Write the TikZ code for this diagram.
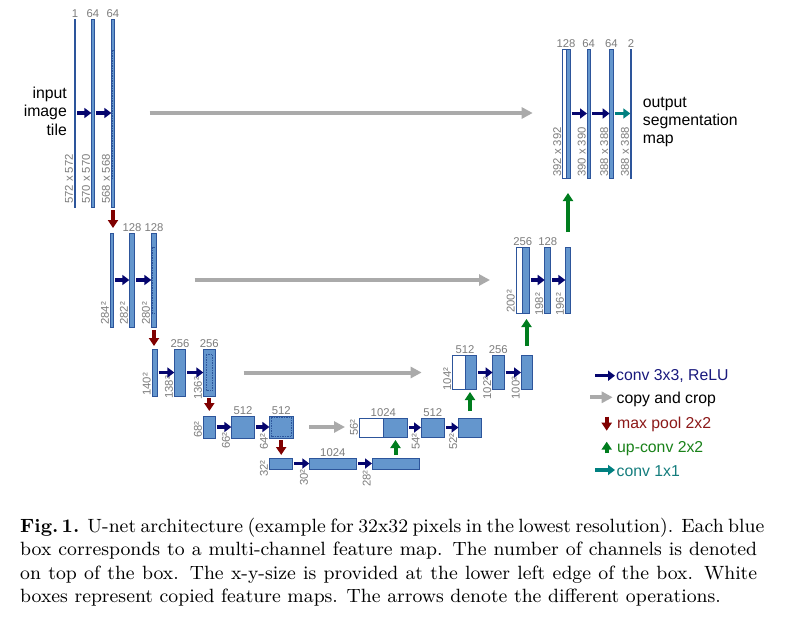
\documentclass[tikz,border=0pt]{standalone}
\usepackage{fontspec}
\usepackage{graphicx}
\usetikzlibrary{arrows.meta}
\newfontfamily\arialf{Liberation Sans}
\definecolor{boxfill}{RGB}{100,150,205}
\definecolor{boxdraw}{RGB}{45,85,155}
\definecolor{convc}{RGB}{5,5,110}
\definecolor{poolc}{RGB}{128,0,0}
\definecolor{upcol}{RGB}{0,125,30}
\definecolor{onec}{RGB}{0,128,128}
\definecolor{copyc}{RGB}{170,170,170}
\definecolor{labc}{RGB}{125,125,125}
\definecolor{convt}{RGB}{25,25,125}
\definecolor{poolt}{RGB}{140,25,25}
\definecolor{upt}{RGB}{25,130,25}
\definecolor{onet}{RGB}{20,125,125}
\begin{document}
\begin{tikzpicture}[x=1pt,y=-1pt,
  bx/.style={draw=boxdraw, fill=boxfill, line width=0.8pt, inner sep=0pt, outer sep=0pt},
  wbx/.style={bx, fill=white},
  cropbox/.style={draw=boxdraw, line width=0.6pt, dash pattern=on 1.5pt off 1pt},
  chl/.style={font=\arialf\fontsize{11.3}{12}\selectfont, text=labc, inner sep=0pt, anchor=base},
  szl/.style={font=\arialf\fontsize{11.3}{12}\selectfont, text=labc, inner sep=0pt, rotate=90, anchor=base west},
  bigt/.style={font=\arialf\fontsize{15.8}{18}\selectfont, inner sep=0pt},
  aconv/.style={draw=convc, line width=3.5pt, -{Triangle[length=7pt,width=10pt]}, shorten <=1.5pt},
  aone/.style={draw=onec, line width=3.5pt, -{Triangle[length=7pt,width=10pt]}, shorten <=1.5pt},
  acopy/.style={draw=copyc, line width=4pt, -{Triangle[length=11pt,width=11pt]}},
  apool/.style={draw=poolc, line width=4pt, -{Triangle[length=8pt,width=10pt]}},
  aup/.style={draw=upcol, line width=4pt, -{Triangle[length=8pt,width=10pt]}}
]
\fill[white] (0,0) rectangle (800,629);
\useasboundingbox (0,0) rectangle (800,629);

% ---------------- contracting path ----------------
\node[bx, minimum width=1.4pt, minimum height=188pt] (b11) at (75,113) {};
\node[bx, minimum width=3pt, minimum height=188pt] (b12) at (92.8,113) {};
\node[bx, minimum width=3.4pt, minimum height=188pt] (b13) at (113,113) {};
\draw[cropbox] (111.9,50) rectangle (114.1,178);

\node[bx, minimum width=3.4pt, minimum height=94pt] (b21) at (112,280) {};
\node[bx, minimum width=5.4pt, minimum height=94pt] (b22) at (132,280) {};
\node[bx, minimum width=5.4pt, minimum height=94pt] (b23) at (154,280) {};
\draw[cropbox] (152,247) rectangle (156,313);

\node[bx, minimum width=5pt, minimum height=47pt] (b31) at (154.5,372.5) {};
\node[bx, minimum width=11.4pt, minimum height=47pt] (b32) at (180,372.5) {};
\node[bx, minimum width=12pt, minimum height=47pt] (b33) at (209.3,372.5) {};
\draw[cropbox] (206,354) rectangle (212.6,390.5);

\node[bx, minimum width=12pt, minimum height=22pt] (b41) at (209.3,427) {};
\node[bx, minimum width=23.4pt, minimum height=22pt] (b42) at (243,427) {};
\node[bx, minimum width=23.6pt, minimum height=22pt] (b43) at (281.2,427) {};
\draw[cropbox] (270.8,417.6) rectangle (291.6,436.4);

\node[bx, minimum width=23pt, minimum height=11pt] (b51) at (280.8,463.5) {};
\node[bx, minimum width=47pt, minimum height=11pt] (b52) at (332.8,463.5) {};
\node[bx, minimum width=47pt, minimum height=11pt] (b53) at (395.5,463.5) {};

% ---------------- expansive path ----------------
\node[wbx, minimum width=24pt, minimum height=19pt] (w4) at (371.3,427.5) {};
\node[bx, minimum width=24pt, minimum height=19pt] (b4u) at (395.3,427.5) {};
\node[bx, minimum width=23.6pt, minimum height=19pt] (b44) at (432.8,427.5) {};
\node[bx, minimum width=23pt, minimum height=19pt] (b45) at (470,427.5) {};

\node[wbx, minimum width=12.3pt, minimum height=34pt] (w3) at (458.8,372.5) {};
\node[bx, minimum width=11.8pt, minimum height=34pt] (b3u) at (470.85,372.5) {};
\node[bx, minimum width=11.4pt, minimum height=34pt] (b34) at (498.3,372.5) {};
\node[bx, minimum width=11pt, minimum height=34pt] (b35) at (526.5,372.5) {};

\node[wbx, minimum width=6.7pt, minimum height=66pt] (w2) at (519.35,280) {};
\node[bx, minimum width=6.6pt, minimum height=66pt] (b2u) at (526,280) {};
\node[bx, minimum width=6pt, minimum height=66pt] (b24) at (547.7,280) {};
\node[bx, minimum width=5.4pt, minimum height=66pt] (b25) at (568,280) {};

\node[wbx, minimum width=3.3pt, minimum height=129pt] (w1) at (564.35,113.5) {};
\node[bx, minimum width=4pt, minimum height=129pt] (b1u) at (568,113.5) {};
\node[bx, minimum width=3.4pt, minimum height=129pt] (b14) at (588.7,113.5) {};
\node[bx, minimum width=3.4pt, minimum height=129pt] (b15) at (611.3,113.5) {};
\node[bx, minimum width=1.4pt, minimum height=129pt] (b16) at (631,113.5) {};

% ---------------- channel labels ----------------
\node[chl] at ([yshift=2pt]b11.north) {1};
\node[chl] at ([yshift=2pt]b12.north) {64};
\node[chl] at ([yshift=2pt]b13.north) {64};
\node[chl] at ([yshift=2pt]b22.north) {128};
\node[chl] at ([yshift=2pt]b23.north) {128};
\node[chl] at ([yshift=2pt]b32.north) {256};
\node[chl] at ([yshift=2pt]b33.north) {256};
\node[chl] at ([yshift=2pt]b42.north) {512};
\node[chl] at ([yshift=2pt]b43.north) {512};
\node[chl] at ([yshift=2pt]b52.north) {1024};
\node[chl] at ([yshift=2pt]w4.north east) {1024};
\node[chl] at ([yshift=2pt]b44.north) {512};
\node[chl] at ([yshift=2pt]w3.north east) {512};
\node[chl] at ([yshift=2pt]b34.north) {256};
\node[chl] at ([yshift=2pt]w2.north east) {256};
\node[chl] at ([yshift=2pt]b24.north) {128};
\node[chl] at ([yshift=2pt]w1.north east) {128};
\node[chl] at ([yshift=2pt]b14.north) {64};
\node[chl] at ([yshift=2pt]b15.north) {64};
\node[chl] at ([yshift=2pt]b16.north) {2};

% ---------------- size labels ----------------
\node[szl] at ([xshift=-1.5pt,yshift=3pt]b11.south west) {572 x 572};
\node[szl] at ([xshift=-1.5pt,yshift=3pt]b12.south west) {570 x 570};
\node[szl] at ([xshift=-1.5pt,yshift=3pt]b13.south west) {568 x 568};
\node[szl] at ([xshift=-1.5pt,yshift=2pt]b21.south west) {284²};
\node[szl] at ([xshift=-1.5pt,yshift=2pt]b22.south west) {282²};
\node[szl] at ([xshift=-1.5pt,yshift=2pt]b23.south west) {280²};
\node[szl] at ([xshift=-1.5pt,yshift=0pt]b31.south west) {140²};
\node[szl] at ([xshift=-1.5pt,yshift=-3pt]b32.south west) {138²};
\node[szl] at ([xshift=-1.5pt,yshift=-4pt]b33.south west) {136²};
\node[szl] at ([xshift=-1.5pt,yshift=0pt]b41.south west) {68²};
\node[szl] at ([xshift=-1.5pt,yshift=-11pt]b42.south west) {66²};
\node[szl] at ([xshift=-1.5pt,yshift=-12pt]b43.south west) {64²};
\node[szl] at ([xshift=-1.5pt,yshift=-8pt]b51.south west) {32²};
\node[szl] at ([xshift=-1.5pt,yshift=-17pt]b52.south west) {30²};
\node[szl] at ([xshift=-1.5pt,yshift=-18pt]b53.south west) {28²};
\node[szl] at ([xshift=-1.5pt,yshift=1pt]w4.south west) {56²};
\node[szl] at ([xshift=-1.5pt,yshift=-13pt]b44.south west) {54²};
\node[szl] at ([xshift=-1.5pt,yshift=-13pt]b45.south west) {52²};
\node[szl] at ([xshift=-1.5pt,yshift=-1pt]w3.south west) {104²};
\node[szl] at ([xshift=-1.5pt,yshift=-10pt]b34.south west) {102²};
\node[szl] at ([xshift=-1.5pt,yshift=-10pt]b35.south west) {100²};
\node[szl] at ([xshift=-1.5pt,yshift=0pt]w2.south west) {200²};
\node[szl] at ([xshift=-1.5pt,yshift=-3pt]b24.south west) {198²};
\node[szl] at ([xshift=-1.5pt,yshift=-3pt]b25.south west) {196²};
\node[szl] at ([xshift=-1.5pt,yshift=1pt]w1.south west) {392 x 392};
\node[szl] at ([xshift=-1.5pt,yshift=1pt]b14.south west) {390 x 390};
\node[szl] at ([xshift=-1.5pt,yshift=1pt]b15.south west) {388 x 388};
\node[szl] at ([xshift=-1.5pt,yshift=1pt]b16.south west) {388 x 388};

% ---------------- conv 3x3 arrows ----------------
\draw[aconv] (b11.east) -- (b12.west);
\draw[aconv] (b12.east) -- (b13.west);
\draw[aconv] (b21.east) -- (b22.west);
\draw[aconv] (b22.east) -- (b23.west);
\draw[aconv] (b31.east) -- (b32.west);
\draw[aconv] (b32.east) -- (b33.west);
\draw[aconv] (b41.east) -- (b42.west);
\draw[aconv] (b42.east) -- (b43.west);
\draw[aconv] (b51.east) -- (b52.west);
\draw[aconv] (b52.east) -- (b53.west);
\draw[aconv] (b4u.east) -- (b44.west);
\draw[aconv] (b44.east) -- (b45.west);
\draw[aconv] (b3u.east) -- (b34.west);
\draw[aconv] (b34.east) -- (b35.west);
\draw[aconv] (b2u.east) -- (b24.west);
\draw[aconv] (b24.east) -- (b25.west);
\draw[aconv] (b1u.east) -- (b14.west);
\draw[aconv] (b14.east) -- (b15.west);
\draw[aone] (b15.east) -- (b16.west);

% ---------------- max pool ----------------
\draw[apool, shorten <=3pt, shorten >=5pt] (b13.south) -- (b13.south |- b21.north);
\draw[apool, shorten <=3pt, shorten >=3pt] (b23.south) -- (b23.south |- b31.north);
\draw[apool, shorten <=2pt, shorten >=5pt] (b33.south) -- (b33.south |- b41.north);
\draw[apool, shorten <=2pt, shorten >=3pt] (b43.south) -- (b43.south |- b51.north);

% ---------------- up-conv ----------------
\draw[aup, shorten <=3pt, shorten >=3pt] (b53.north) -- (b53.north |- b4u.south);
\draw[aup, shorten <=7pt, shorten >=2.5pt] (b45.north) -- (b45.north |- b3u.south);
\draw[aup, shorten <=9.5pt, shorten >=6pt] (b35.north) -- (b35.north |- b2u.south);
\draw[aup, shorten <=15pt, shorten >=15pt] (b25.north) -- (b25.north |- b1u.south);

% ---------------- copy and crop ----------------
\draw[acopy, shorten <=35pt, shorten >=30pt] (b13.east) -- (b13.east -| w1.west);
\draw[acopy, shorten <=38pt, shorten >=26pt] (b23.east) -- (b23.east -| w2.west);
\draw[acopy, shorten <=28.3pt, shorten >=31pt] (b33.east) -- (b33.east -| w3.west);
\draw[acopy, shorten <=16pt, shorten >=14.3pt] (b43.east) -- (b43.east -| w4.west);

% ---------------- input / output text ----------------
\node[bigt, anchor=base east] (in1) at (67,98.3) {input};
\node[bigt, anchor=base east] (in2) at (67,116.7) {image};
\node[bigt, anchor=base east] (in3) at (67,135) {tile};
\node[bigt, anchor=base west] (out1) at (642.7,107.5) {output};
\node[bigt, anchor=base west] (out2) at (642.7,125.5) {segmentation};
\node[bigt, anchor=base west] (out3) at (642.7,143.5) {map};

% ---------------- legend ----------------
\coordinate (lg1a) at (593.5,375.7); \coordinate (lg1b) at (615,375.7);
\coordinate (lg2a) at (590,397.3); \coordinate (lg2b) at (612.7,397.3);
\coordinate (lg3a) at (606.7,416.7); \coordinate (lg3b) at (606.7,430.7);
\coordinate (lg4a) at (606.7,453.3); \coordinate (lg4b) at (606.7,441.7);
\coordinate (lg5a) at (593.5,470); \coordinate (lg5b) at (615,470);
\draw[aconv] (lg1a) -- (lg1b);
\draw[acopy] (lg2a) -- (lg2b);
\draw[apool] (lg3a) -- (lg3b);
\draw[aup] (lg4a) -- (lg4b);
\draw[aone] (lg5a) -- (lg5b);
\node[bigt, anchor=base west, text=convt] (lt1) at (616,380.7) {conv 3x3, ReLU};
\node[bigt, anchor=base west, text=black] (lt2) at (616.5,403.3) {copy and crop};
\node[bigt, anchor=base west, text=poolt] (lt3) at (617,428.3) {max pool 2x2};
\node[bigt, anchor=base west, text=upt] (lt4) at (617,452) {up-conv 2x2};
\node[bigt, anchor=base west, text=onet] (lt5) at (616.5,476) {conv 1x1};

% ---------------- caption ----------------
\node[anchor=base west, inner sep=0pt] (cap1) at (20,532.5) {\scalebox{2.1325}{\fontsize{9}{11}\selectfont\makebox[345.6pt][s]{\textbf{Fig.\,1.} U-net architecture (example for 32x32 pixels in the lowest resolution). Each blue}}};
\node[anchor=base west, inner sep=0pt] (cap2) at (20,555.8) {\scalebox{2.1325}{\fontsize{9}{11}\selectfont\makebox[345.6pt][s]{box corresponds to a multi-channel feature map. The number of channels is denoted}}};
\node[anchor=base west, inner sep=0pt] (cap3) at (20,579.1) {\scalebox{2.1325}{\fontsize{9}{11}\selectfont\makebox[345.6pt][s]{on top of the box. The x-y-size is provided at the lower left edge of the box. White}}};
\node[anchor=base west, inner sep=0pt] (cap4) at (20,602.4) {\scalebox{2.1325}{\fontsize{9}{11}\selectfont boxes represent copied feature maps. The arrows denote the different operations.}};
\end{tikzpicture}
\end{document}
